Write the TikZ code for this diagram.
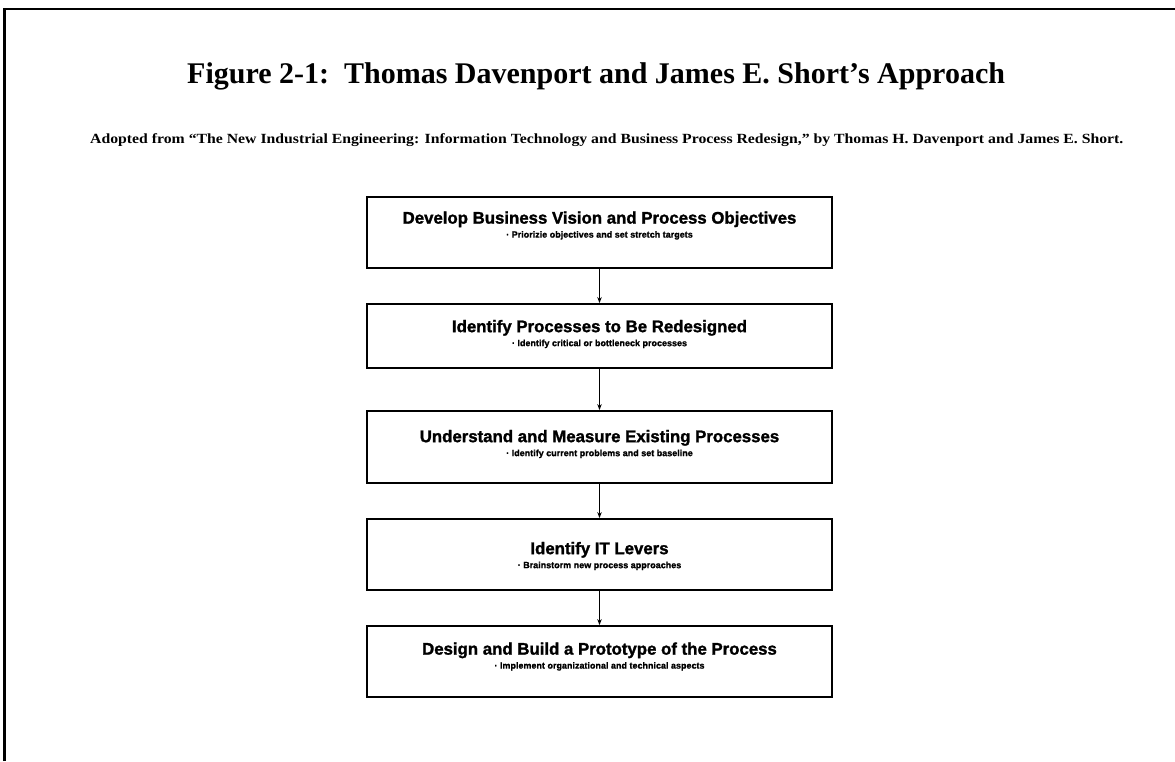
\documentclass[tikz,border=0pt]{standalone}
\usepackage{fontspec}
\setmainfont{Liberation Serif}
\newfontfamily\boxfont[BoldFeatures={FakeBold=1.5}]{Liberation Sans}
\usetikzlibrary{arrows.meta}
\begin{document}
\begin{tikzpicture}[x=1pt,y=-1pt,
  stepbox/.style={draw, line width=1.8pt, minimum width=465pt, inner sep=0pt},
  boxtext/.style={align=center, inner sep=0pt, font=\boxfont\bfseries\fontsize{9}{14}\selectfont},
  conn/.style={line width=1.4pt, -{Stealth[length=6pt,width=4.5pt]}},
  frameline/.style={line width=2.5pt}]
\useasboundingbox (0,0) rectangle (1175,761);
\coordinate (fa) at (4.5,761);
\coordinate (fb) at (4.5,9);
\coordinate (fc) at (1175,9);
\draw[frameline] (fa) -- (fb) -- (fc);

\node[anchor=base west, inner sep=0pt, font=\bfseries\fontsize{30}{30}\selectfont] (title) at (187,83)
  {Figure 2-1:\ \ Thomas Davenport and James E. Short’s Approach};
\node[anchor=base west, inner sep=0pt, xscale=1.125, font=\bfseries\fontsize{14}{14}\selectfont] (subtitle) at (90,143)
  {Adopted from “The New Industrial Engineering: Information Technology and Business Process Redesign,” by Thomas H. Davenport and James E. Short.};

\node[stepbox, minimum height=71pt] (b1) at (599.5,232.5) {};
\node[stepbox, minimum height=64pt] (b2) at (599.5,336) {};
\node[stepbox, minimum height=72pt] (b3) at (599.5,447) {};
\node[stepbox, minimum height=71pt] (b4) at (599.5,554.5) {};
\node[stepbox, minimum height=71pt] (b5) at (599.5,661.5) {};

\node[boxtext] (t1) at (599.5,225.5) {{\fontsize{16.8}{16.8}\selectfont Develop Business Vision and Process Objectives}\\· Priorizie objectives and set stretch targets};
\node[boxtext] (t2) at (599.5,334) {{\fontsize{16.8}{16.8}\selectfont Identify Processes to Be Redesigned}\\· Identify critical or bottleneck processes};
\node[boxtext] (t3) at (599.5,444) {{\fontsize{16.8}{16.8}\selectfont Understand and Measure Existing Processes}\\· Identify current problems and set baseline};
\node[boxtext] (t4) at (599.5,556) {{\fontsize{16.8}{16.8}\selectfont Identify IT Levers}\\· Brainstorm new process approaches};
\node[boxtext] (t5) at (599.5,656.5) {{\fontsize{16.8}{16.8}\selectfont Design and Build a Prototype of the Process}\\· Implement organizational and technical aspects};

\draw[conn] (b1.south) -- (b2.north);
\draw[conn] (b2.south) -- (b3.north);
\draw[conn] (b3.south) -- (b4.north);
\draw[conn] (b4.south) -- (b5.north);
\end{tikzpicture}
\end{document}
